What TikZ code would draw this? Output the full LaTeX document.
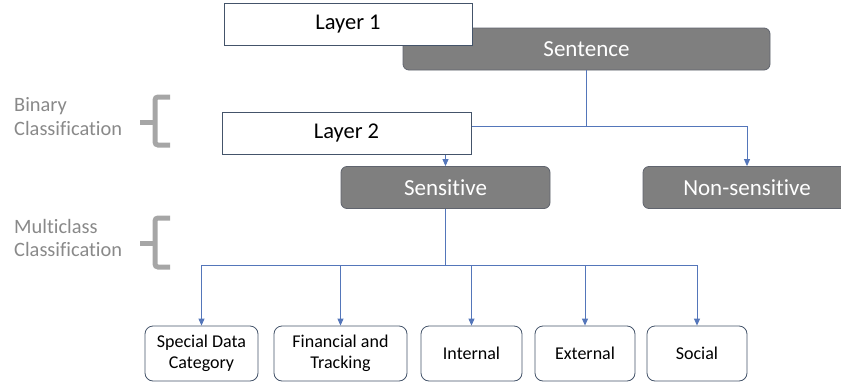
\documentclass[tikz,border=0pt]{standalone}
\usepackage{fontspec}
\setmainfont{Carlito}[Ligatures=NoCommon]
\usetikzlibrary{arrows.meta}

\definecolor{boxgray}{RGB}{127,127,127}
\definecolor{grayedge}{RGB}{96,100,110}
\definecolor{edgeblue}{RGB}{68,84,106}
\definecolor{linkblue}{RGB}{84,118,186}
\definecolor{sidegray}{RGB}{137,137,137}
\definecolor{bracegray}{RGB}{166,166,166}

\begin{document}
\begin{tikzpicture}[x=1pt, y=-1pt,
        layerbox/.style={draw=edgeblue, fill=white, line width=0.8pt, inner sep=0pt,
                         minimum height=42pt, font=\fontsize{22.5}{27}\selectfont},
        graybox/.style={draw=grayedge, fill=boxgray, text=white, line width=0.8pt,
                        rounded corners=6pt, inner sep=0pt, minimum height=42pt,
                        font=\fontsize{23}{27}\selectfont},
        classbox/.style={draw=edgeblue, fill=white, line width=0.8pt, rounded corners=8pt,
                         inner sep=0pt, minimum height=55pt, align=center,
                         font=\fontsize{18}{21.5}\selectfont},
        link/.style={draw=linkblue, line width=0.9pt},
        arrow/.style={link, -{Triangle[length=7pt,width=6pt]}},
        brace/.style={draw=bracegray, line width=5pt, rounded corners=3pt},
        sidetext/.style={text=sidegray, align=left, inner sep=0pt, anchor=west,
                         font=\fontsize{20.4}{23.5}\selectfont}]
                   \useasboundingbox (0,0) rectangle (841,383);

                   % top level
                   \node[graybox, minimum width=367pt] (sentence) at (586.5,49) {Sentence};
                   \node[layerbox, minimum width=248pt] (layer1) at (348,24) {Layer 1};

                   \node[graybox, minimum width=209pt] (sensitive) at (445.5,187.5) {Sensitive};
                   \node[graybox, minimum width=208pt] (nonsens) at (747,187.5) {Non-sensitive};

                   % binary split
                   \coordinate (split) at (sentence.south |- 0,126);
                   \draw[link] (sentence.south) -- (split);
                   \draw[arrow] (split) -| (sensitive.north);
                   \draw[arrow] (split) -| (nonsens.north);

                   \node[layerbox, minimum width=249pt] (layer2) at (346.5,133.5) {Layer 2};

                   % classes
                   \node[classbox, minimum width=113pt] (special) at (201.5,353.5) {Special Data\\Category};
                   \node[classbox, minimum width=133pt] (financial) at (340.5,353.5) {Financial and\\Tracking};
                   \node[classbox, minimum width=101pt] (internal) at (471.5,353.5) {Internal};
                   \node[classbox, minimum width=100pt] (external) at (585,353.5) {External};
                   \node[classbox, minimum width=100pt] (social) at (697,353.5) {Social};

                   \coordinate (hub) at (sensitive.south |- 0,265);
                   \draw[link] (sensitive.south) -- (hub);
                   \foreach \c in {special, financial, internal, external, social}
                       \draw[arrow] (hub) -| (\c.north);

                   % side labels
                   \node[sidetext] (binary) at (14,116.5) {Binary\\Classification};
                   \draw[brace] (170,97) -- (155,97) -- (155,145) -- (170,145);
                   \draw[brace] (140,122) -- (155,122);

                   \node[sidetext] (multi) at (14,238) {Multiclass\\Classification};
                   \draw[brace] (170,218) -- (155,218) -- (155,267) -- (170,267);
                   \draw[brace] (140,243) -- (155,243);

        \end{tikzpicture}
\end{document}
